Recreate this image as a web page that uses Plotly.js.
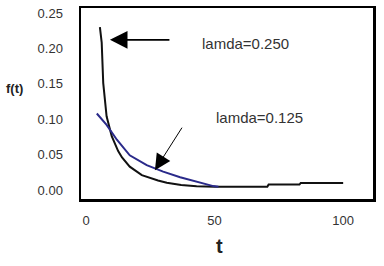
<!DOCTYPE html>
<html>
<head>
<meta charset="utf-8">
<script src="https://cdn.plot.ly/plotly-3.0.1.min.js"></script>
<style>html,body{margin:0;padding:0;background:#fff;}#chart{width:384px;height:266px;}</style>
</head>
<body>
<div id="chart"></div>
<script>
// lamda = 0.250 (black)
const tA = [5.4, 6.1, 6.7, 8, 10, 12.5, 14, 17, 21.7, 24, 28, 31.4, 37, 43, 50, 70.5, 71, 83, 83.5, 100];
const fA = [0.230, 0.208, 0.151, 0.104, 0.076, 0.055, 0.046, 0.033, 0.021, 0.018, 0.0135, 0.0103, 0.0072, 0.0052, 0.0047, 0.0047, 0.0076, 0.0076, 0.0100, 0.0100];
// lamda = 0.125 (blue)
const tB = [4.2, 8, 12, 17, 23.6, 30, 36.6, 43, 49.5, 51.5];
const fB = [0.108, 0.092, 0.071, 0.049, 0.035, 0.026, 0.018, 0.0117, 0.0055, 0.0047];
const xTicks = [0, 50, 100];
const yTicks = [0, 0.05, 0.10, 0.15, 0.20, 0.25];
const yTickText = ["0.00", "0.05", "0.10", "0.15", "0.20", "0.25"];
const labelA = "lamda=0.250";
const labelB = "lamda=0.125";

const font = "Liberation Sans, Arial, sans-serif";
const data = [
  {x: tA, y: fA, mode: "lines", line: {color: "#111111", width: 2}, hoverinfo: "none"},
  {x: tB, y: fB, mode: "lines", line: {color: "#2a2a8a", width: 2}, hoverinfo: "none"}
];
const layout = {
  width: 384, height: 266,
  margin: {l: 81, r: 11, t: 8, b: 67},
  paper_bgcolor: "#ffffff", plot_bgcolor: "#ffffff",
  showlegend: false,
  font: {family: font, color: "#333333", size: 13},
  xaxis: {
    range: [-1.95, 111.6], tickvals: xTicks, ticks: "", showgrid: false, zeroline: false,
    showline: true, mirror: true, linecolor: "#000000", linewidth: 2.5,
    ticklabelstandoff: 8, tickfont: {size: 13, color: "#333333"}
  },
  yaxis: {
    range: [-0.0127, 0.257], tickvals: yTicks, ticktext: yTickText, ticks: "", showgrid: false, zeroline: false,
    showline: true, mirror: true, linecolor: "#000000", linewidth: 2.5,
    ticklabelstandoff: 13, tickfont: {size: 13, color: "#333333"}
  },
  annotations: [
    {x: 9.3, y: 0.212, xref: "x", yref: "y", text: "", showarrow: true, ax: 61, ay: 0,
     arrowhead: 2, arrowsize: 2.2, arrowwidth: 1.6, arrowcolor: "#000000"},
    {x: 245, y: 44, xref: "paper", yref: "paper", text: labelA, showarrow: false,
     font: {size: 15, color: "#333333", family: font}},
    {x: 26.8, y: 0.028, xref: "x", yref: "y", text: "", showarrow: true, ax: 28, ay: -44,
     arrowhead: 2, arrowsize: 3.2, arrowwidth: 1, arrowcolor: "#000000"},
    {x: 259, y: 117, xref: "paper", yref: "paper", text: labelB, showarrow: false,
     font: {size: 15, color: "#333333", family: font}},
    {x: 14, y: 88, xref: "paper", yref: "paper", text: "<b>f(t)</b>", showarrow: false,
     font: {size: 13, color: "#222222", family: font}},
    {x: 219, y: 246, xref: "paper", yref: "paper", text: "<b>t</b>", showarrow: false,
     font: {size: 20, color: "#222222", family: font}}
  ]
};
// convert pixel placement of free text to paper coords
layout.annotations.forEach(a => {
  if (a.xref === "paper") {
    a.x = (a.x - 81) / 292;
    a.y = (199 - a.y) / 191;
    a.xanchor = "center";
    a.yanchor = "middle";
  }
});
Plotly.newPlot("chart", data, layout, {staticPlot: true});
</script>
</body>
</html>
